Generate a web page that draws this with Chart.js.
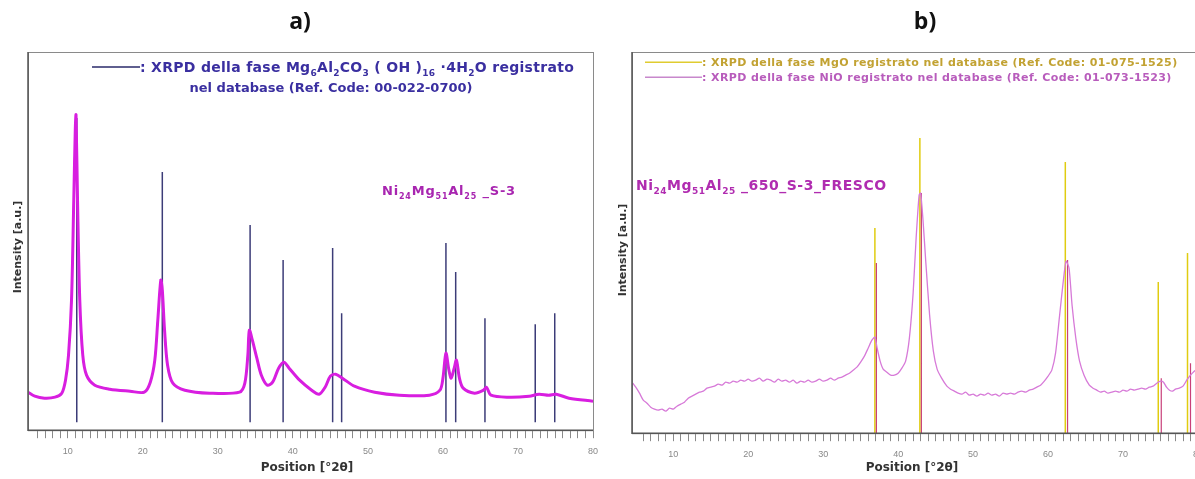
<!DOCTYPE html>
<html>
<head>
<meta charset="utf-8">
<script src="https://cdn.jsdelivr.net/npm/chart.js@4.4.0/dist/chart.umd.min.js"></script>
<style>
  body { margin: 0; background: #fff; overflow: hidden; width: 1195px; height: 479px; position: relative; }
  #wa { position: absolute; left: 0; top: 0; width: 600px; height: 479px; }
  #wb { position: absolute; left: 600px; top: 0; width: 620px; height: 479px; }
</style>
</head>
<body>
<div id="wa"><canvas id="chartA" width="600" height="479"></canvas></div>
<div id="wb"><canvas id="chartB" width="620" height="479"></canvas></div>
<script>
// ---- data: panel a) hydrotalcite precursor ----
const aPos = [4.7, 5.6, 6.9, 8.3, 9.2, 9.7, 10.1, 10.5, 10.8, 11.0, 11.1, 11.3, 11.6, 12.0, 12.5, 13.6, 15.6, 18.3, 20.2,
  21.0, 21.6, 22.0, 22.4, 22.6, 22.9, 23.3, 24.0, 25.6, 28.9, 32.9, 33.6, 34.0, 34.2, 34.6, 35.2, 35.8, 36.6, 37.3,
  38.1, 38.8, 39.5, 40.9, 42.5, 43.5, 44.3, 45.0, 45.7, 46.6, 48.2, 50.9, 54.2, 58.2, 59.6, 60.0, 60.4, 60.8, 61.1,
  61.5, 61.8, 62.2, 62.7, 64.2, 65.4, 65.8, 66.4, 68.8, 71.5, 72.8, 74.1, 75.1, 76.8, 80.0];
const aInt = [38, 34, 32, 33, 37, 50, 75, 130, 230, 300, 315, 230, 130, 75, 55, 45, 41, 39, 38,
  48, 70, 110, 150, 140, 100, 65, 47, 40, 37, 38, 47, 75, 100, 90, 72, 55, 45, 48,
  62, 68, 62, 50, 40, 36, 43, 54, 56, 52, 44, 38, 35, 35, 40, 52, 77, 60, 52,
  62, 70, 52, 42, 37, 40, 43, 35, 33, 34, 36, 35, 36, 32, 29];
// reference pattern 00-022-0700
const aRefPos = [11.2, 22.6, 34.3, 38.7, 45.3, 46.5, 60.4, 61.7, 65.6, 72.3, 74.9];
const aRefInt = [312, 258, 205, 170, 182, 117, 187, 158, 112, 106, 117];

// ---- data: panel b) calcined 650 ----
const bPos = [4.6, 5.0, 5.5, 6.0, 6.5, 7.0, 7.5, 8.0, 8.5, 9.0, 9.5, 10.0, 10.5, 11.0, 11.5, 12.0, 12.5, 13.0, 13.5,
  14.0, 14.5, 15.0, 15.5, 16.0, 16.5, 17.0, 17.5, 18.0, 18.5, 19.0, 19.5, 20.0, 20.5, 21.0, 21.5, 22.0, 22.5, 23.0,
  23.5, 24.0, 24.5, 25.0, 25.5, 26.0, 26.5, 27.0, 27.5, 28.0, 28.5, 29.0, 29.5, 30.0, 30.5, 31.0, 31.5, 32.0, 32.5,
  33.0, 33.5, 34.0, 34.5, 35.0, 35.5, 36.0, 36.5, 36.9, 37.2, 37.6, 38.0, 38.5, 39.0, 39.5, 40.0, 40.5, 41.0, 41.5,
  42.0, 42.4, 42.8, 43.0, 43.3, 43.7, 44.2, 44.7, 45.2, 45.8, 46.5, 47.0, 47.5, 48.0, 48.5, 49.0, 49.5, 50.0, 50.5,
  51.0, 51.5, 52.0, 52.5, 53.0, 53.5, 54.0, 54.5, 55.0, 55.5, 56.0, 56.5, 57.0, 57.5, 58.0, 58.5, 59.0, 59.5, 60.0,
  60.5, 61.0, 61.5, 62.0, 62.4, 62.8, 63.2, 63.7, 64.2, 64.8, 65.5, 66.0, 66.5, 67.0, 67.5, 68.0, 68.5, 69.0, 69.5,
  70.0, 70.5, 71.0, 71.5, 72.0, 72.5, 73.0, 73.5, 74.0, 74.5, 75.0, 75.4, 75.8, 76.2, 76.6, 77.0, 77.5, 78.0, 78.5,
  79.0, 79.5, 80.0];
const bInt = [50, 46, 40, 33, 30, 26, 24, 23, 24, 22, 25, 24, 27, 29, 31, 35, 37, 39, 41,
  42, 45, 46, 47, 49, 48, 51, 50, 52, 51, 53, 52, 54, 52, 53, 55, 52, 54, 53,
  51, 54, 52, 53, 51, 53, 50, 52, 51, 53, 51, 52, 54, 52, 53, 55, 53, 55, 56,
  58, 60, 63, 66, 71, 77, 85, 93, 96, 85, 72, 64, 61, 58, 58, 60, 65, 72, 95,
  140, 195, 238, 240, 215, 170, 118, 82, 64, 55, 47, 44, 42, 40, 39, 41, 38, 39, 37,
  39, 38, 40, 38, 39, 37, 40, 39, 40, 39, 41, 42, 41, 43, 44, 46, 48, 52, 57,
  63, 80, 115, 150, 172, 165, 128, 95, 72, 58, 48, 45, 43, 41, 42, 40, 41, 42, 41,
  43, 42, 44, 43, 44, 45, 44, 46, 47, 50, 52, 51, 46, 43, 42, 44, 45, 47, 53,
  58, 62, 65];
// reference patterns
const mgoPos = [36.9, 42.9, 62.3, 74.7, 78.6];
const mgoInt = [205, 295, 271, 151, 180];
const nioPos = [37.1, 43.1, 62.6, 75.1, 79.0];
const nioInt = [170, 240, 173, 55, 70];

const xLabels = [10, 20, 30, 40, 50, 60, 70, 80];

function toPts(xs, ys) { return xs.map((x, i) => ({ x: x, y: ys[i] })); }
function sticks(xs, hs, base) {
  const d = [];
  xs.forEach((x, i) => { d.push({ x: x, y: base }, { x: x, y: hs[i] }, { x: x, y: null }); });
  return d;
}

const FONT = '"DejaVu Sans", "Liberation Sans", Arial, sans-serif';

// draws text with subscript parts, returns width
function rich(ctx, parts, x, y, size, color, draw, spacing) {
  let cx = x;
  ctx.fillStyle = color;
  ctx.textBaseline = 'alphabetic';
  ctx.textAlign = 'left';
  ctx.letterSpacing = (spacing || 0) + 'px';
  parts.forEach(p => {
    const sub = p[1] === 's';
    const fs = sub ? Math.round(size * 0.62) : size;
    ctx.font = 'bold ' + fs + 'px ' + FONT;
    if (draw) ctx.fillText(p[0], cx, y + (sub ? size * 0.28 : 0));
    cx += ctx.measureText(p[0]).width;
  });
  ctx.letterSpacing = '0px';
  return cx - x;
}

function decor(opts) {
  return {
    id: 'decor',
    afterDraw(chart) {
      const ctx = chart.ctx;
      const a = chart.chartArea;
      ctx.save();
      // frame
      ctx.strokeStyle = '#8a8a8a';
      ctx.lineWidth = 1;
      ctx.strokeRect(a.left + 0.5, a.top + 0.5, a.right - a.left, a.bottom - a.top);
      ctx.strokeStyle = '#555';
      ctx.lineWidth = 1.5;
      ctx.beginPath();
      ctx.moveTo(a.left, a.top); ctx.lineTo(a.left, a.bottom); ctx.lineTo(a.right, a.bottom);
      ctx.stroke();
      // panel title
      ctx.fillStyle = '#111';
      ctx.font = 'bold 23px "Open Sans", "Liberation Sans", sans-serif';
      ctx.textAlign = 'center';
      ctx.textBaseline = 'middle';
      ctx.fillText(opts.title, opts.titleX, 22);
      // axis titles
      ctx.font = 'bold 12px ' + FONT;
      ctx.fillStyle = '#333';
      ctx.fillText('Position [°2θ]', opts.xTitleX, 468);
      ctx.save();
      ctx.translate(opts.yTitleX, opts.yTitleY);
      ctx.rotate(-Math.PI / 2);
      ctx.font = 'bold 11px ' + FONT;
      ctx.fillText('Intensity [a.u.]', 0, 0);
      ctx.restore();
      // legend
      opts.legend.forEach(l => {
        ctx.strokeStyle = l.lineColor;
        ctx.lineWidth = 1.5;
        ctx.beginPath();
        ctx.moveTo(l.x0, l.y - l.size * 0.35); ctx.lineTo(l.x1, l.y - l.size * 0.35);
        ctx.stroke();
        rich(ctx, l.parts, l.x1, l.y, l.size, l.color, true, l.sp);
        if (l.line2) {
          const w = rich(ctx, [[l.line2, '']], 0, 0, l.size2, l.color, false, 0);
          rich(ctx, [[l.line2, '']], l.line2X - w / 2, l.y + 20, l.size2, l.color, true, 0);
        }
      });
      // sample label
      rich(ctx, opts.sample, opts.sampleX, opts.sampleY, opts.sampleSize, opts.sampleColor, true, opts.sampleSp);
      ctx.restore();
    }
  };
}

function xScale(min) {
  return {
    type: 'linear', min: min, max: 80,
    afterBuildTicks: s => { s.ticks = s.ticks.filter(t => Number.isInteger(t.value)); },
    afterFit: s => { s.paddingLeft = 0; s.paddingRight = 0; },
    ticks: {
      stepSize: 1, autoSkip: false, maxRotation: 0, padding: 8,
      color: '#888', font: { size: 9, family: '"Liberation Sans", Arial, sans-serif' },
      callback: v => xLabels.includes(v) ? String(v) : ''
    },
    grid: { drawOnChartArea: false, drawTicks: true, tickLength: 8, color: '#8a8a8a', lineWidth: 1 },
    border: { display: false }
  };
}

const sampleParts = tail => [['Ni', ''], ['24', 's'], ['Mg', ''], ['51', 's'], ['Al', ''], ['25', 's'], [tail, '']];

new Chart(document.getElementById('chartA'), {
  type: 'scatter',
  data: {
    datasets: [
      { data: toPts(aPos, aInt), showLine: true, borderColor: '#d81ee0', borderWidth: 3, pointRadius: 0, tension: 0.3 },
      { data: toPts(aPos, aInt), showLine: true, borderColor: '#6a3a9a', borderWidth: 1.4, pointRadius: 0, tension: 0.3 },
      { data: sticks(aRefPos, aRefInt, 8), showLine: true, spanGaps: false, borderColor: '#3c3c78', borderWidth: 1.5, pointRadius: 0 }
    ]
  },
  options: {
    responsive: false, animation: false, devicePixelRatio: 1,
    layout: { padding: { left: 28, right: 7, top: 52, bottom: 14 } },
    plugins: { legend: { display: false }, tooltip: { enabled: false } },
    scales: {
      x: xScale(4.7),
      y: { display: false, min: 0, max: 378 }
    }
  },
  plugins: [decor({
    title: 'a)', titleX: 300, xTitleX: 307, yTitleX: 18, yTitleY: 247,
    legend: [{
      x0: 92, x1: 140, y: 72, size: 14, size2: 13, sp: 0.3, lineColor: '#2a2a6a', color: '#3a2fa0',
      parts: [[': XRPD della fase Mg', ''], ['6', 's'], ['Al', ''], ['2', 's'], ['CO', ''], ['3', 's'], [' ( OH )', ''],
        ['16', 's'], [' ·4H', ''], ['2', 's'], ['O registrato', '']],
      line2: 'nel database (Ref. Code: 00-022-0700)', line2X: 331
    }],
    sample: sampleParts(' _S-3'), sampleX: 382, sampleY: 195, sampleSize: 13, sampleSp: 0.8, sampleColor: '#a825b0'
  })]
});

new Chart(document.getElementById('chartB'), {
  type: 'scatter',
  data: {
    datasets: [
      { data: toPts(bPos, bInt), showLine: true, borderColor: '#d77ad8', borderWidth: 1.3, pointRadius: 0, tension: 0.2 },
      { data: sticks(nioPos, nioInt, 0), showLine: true, spanGaps: false, borderColor: '#c8407a', borderWidth: 1.2, pointRadius: 0 },
      { data: sticks(mgoPos, mgoInt, 0), showLine: true, spanGaps: false, borderColor: '#e0cc10', borderWidth: 1.5, pointRadius: 0 }
    ]
  },
  options: {
    responsive: false, animation: false, devicePixelRatio: 1,
    layout: { padding: { left: 32, right: 22, top: 52, bottom: 11 } },
    plugins: { legend: { display: false }, tooltip: { enabled: false } },
    scales: {
      x: xScale(4.5),
      y: { display: false, min: 0, max: 381 }
    }
  },
  plugins: [decor({
    title: 'b)', titleX: 325, xTitleX: 312, yTitleX: 23, yTitleY: 250,
    legend: [
      { x0: 45, x1: 102, y: 66, size: 11, sp: 0.4, lineColor: '#e0cc30', color: '#c2a232',
        parts: [[': XRPD della fase MgO registrato nel database (Ref. Code: 01-075-1525)', '']] },
      { x0: 45, x1: 102, y: 81, size: 11, sp: 0.4, lineColor: '#c888cc', color: '#b85cbc',
        parts: [[': XRPD della fase NiO registrato nel database (Ref. Code: 01-073-1523)', '']] }
    ],
    sample: sampleParts(' _650_S-3_FRESCO'), sampleX: 36, sampleY: 190, sampleSize: 14, sampleSp: 0.5, sampleColor: '#b02cb0'
  })]
});
</script>
</body>
</html>
